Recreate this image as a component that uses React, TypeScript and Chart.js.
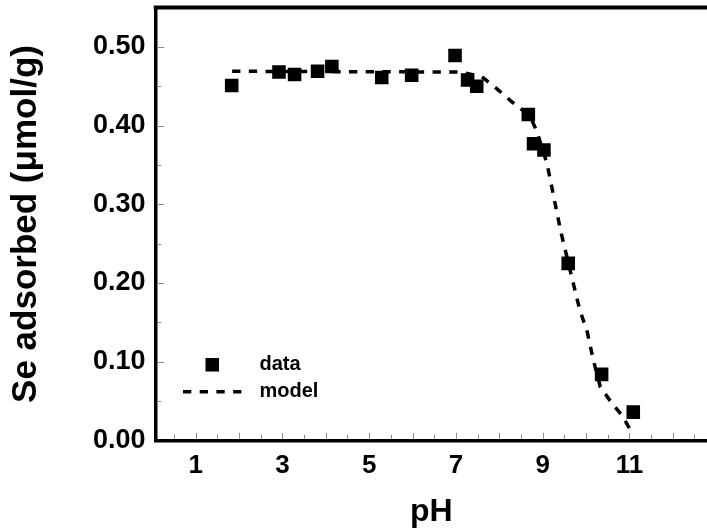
import React, { useEffect, useRef } from "react";
import { Chart, registerables } from "chart.js";

Chart.register(...registerables);

// Measured data (pH vs Se adsorbed, µmol/g)
const dataPH = [1.83, 2.92, 3.28, 3.81, 4.14, 5.29, 5.98, 6.98, 7.27, 7.48, 8.67, 8.79, 9.03, 9.59, 10.36, 11.09];
const dataSe = [0.451, 0.468, 0.465, 0.469, 0.475, 0.461, 0.464, 0.489, 0.458, 0.45, 0.414, 0.377, 0.369, 0.225, 0.084, 0.036];

// Model curve
const modelPH = [1.84, 7.12, 7.6, 7.94, 8.25, 8.55, 8.75, 8.87, 9.1, 9.42, 9.67, 9.86, 10.02, 10.17, 10.33, 10.6, 10.83, 11.06];
const modelSe = [0.469, 0.468, 0.462, 0.447, 0.432, 0.419, 0.407, 0.392, 0.352, 0.265, 0.208, 0.165, 0.14, 0.102, 0.068, 0.047, 0.032, 0.01];

// Tick labels
const xLabelTicks = [1, 3, 5, 7, 9, 11];
const yLabelTicks = [0, 0.1, 0.2, 0.3, 0.4, 0.5];

const seriesNames = ["data", "model"];
const xTitle = "pH";
const yTitle = "Se adsorbed (\u03bcmol/g)";

const FONT = "'Liberation Sans', Arial, Helvetica, sans-serif";

const zeroPadding = (scale: any) => {
  scale.paddingTop = 0;
  scale.paddingBottom = 0;
  scale.paddingLeft = 0;
  scale.paddingRight = 0;
};

const decorPlugin = {
  id: "decor",
  afterDraw(chart: any) {
    const { ctx, chartArea, scales } = chart;
    const xs = scales.x;
    const ys = scales.y;
    ctx.save();
    // top border
    ctx.strokeStyle = "#000";
    ctx.lineWidth = 4;
    ctx.beginPath();
    ctx.moveTo(chartArea.left - 1.75, chartArea.top);
    ctx.lineTo(chart.width, chartArea.top);
    ctx.stroke();

    // inward tick marks
    ctx.strokeStyle = "#8a8a8a";
    ctx.lineWidth = 1;
    const b = chartArea.bottom - 1.75;
    for (let v = Math.ceil(xs.min / 0.5) * 0.5; v <= xs.max; v += 0.5) {
      const px = Math.round(xs.getPixelForValue(v)) + 0.5;
      const major = Math.abs(v - Math.round(v)) < 1e-6;
      ctx.beginPath();
      ctx.moveTo(px, b);
      ctx.lineTo(px, b - (major ? 6 : 4));
      ctx.stroke();
    }
    const l = chartArea.left + 1.75;
    for (let i = 1; i * 0.05 < ys.max; i++) {
      const v = i * 0.05;
      const py = Math.round(ys.getPixelForValue(v)) + 0.5;
      const major = i % 2 === 0;
      ctx.beginPath();
      ctx.moveTo(l, py);
      ctx.lineTo(l + (major ? 7 : 4), py);
      ctx.stroke();
    }

    // legend inside plot
    const lx = chartArea.left;
    const dataY = ys.getPixelForValue(0.1) + 3;
    const modelY = dataY + 27;
    ctx.fillStyle = "#000";
    ctx.fillRect(lx + 50, dataY - 6.75, 13.5, 13.5);
    ctx.strokeStyle = "#000";
    ctx.lineWidth = 3.5;
    ctx.setLineDash([8.3, 8.4]);
    ctx.beginPath();
    ctx.moveTo(lx + 27.5, modelY);
    ctx.lineTo(lx + 86.5, modelY);
    ctx.stroke();
    ctx.setLineDash([]);
    ctx.font = `bold 20px ${FONT}`;
    ctx.textBaseline = "middle";
    ctx.textAlign = "left";
    ctx.fillText(seriesNames[0], lx + 104, dataY);
    ctx.fillText(seriesNames[1], lx + 104, modelY);
    ctx.restore();
  },
};

export default function App() {
  const canvasRef = useRef<HTMLCanvasElement | null>(null);

  useEffect(() => {
    if (!canvasRef.current) return;
    const chart = new Chart(canvasRef.current, {
      type: "scatter",
      data: {
        datasets: [
          {
            label: seriesNames[0],
            data: dataPH.map((x, i) => ({ x, y: dataSe[i] })),
            pointStyle: "rect",
            pointRadius: 9.6,
            pointHoverRadius: 9.6,
            backgroundColor: "#000",
            borderWidth: 0,
            showLine: false,
          },
          {
            label: seriesNames[1],
            data: modelPH.map((x, i) => ({ x, y: modelSe[i] })),
            showLine: true,
            pointRadius: 0,
            borderColor: "#000",
            borderWidth: 3.5,
            borderDash: [8.3, 8.4],
            tension: 0,
            fill: false,
          },
        ],
      },
      options: {
        animation: false,
        responsive: true,
        maintainAspectRatio: false,
        layout: { autoPadding: false, padding: { top: 7.5, right: 0, left: 0, bottom: 0 } },
        plugins: {
          legend: { display: false },
          tooltip: { enabled: false },
        },
        scales: {
          x: {
            type: "linear",
            min: 0.073,
            max: 12.79,
            grid: { display: false, drawTicks: false },
            border: { display: true, color: "#000", width: 3.5 },
            afterBuildTicks: (scale: any) => {
              scale.ticks = xLabelTicks.map((v) => ({ value: v }));
            },
            afterFit: (scale: any) => {
              scale.height = 91.5;
              zeroPadding(scale);
            },
            ticks: {
              color: "#000",
              padding: 10,
              font: { family: FONT, size: 26, weight: "bold" },
              callback: (v: any) => String(v),
              maxRotation: 0,
              autoSkip: false,
            },
            title: {
              display: true,
              text: xTitle,
              color: "#000",
              padding: { top: 0, bottom: 1 },
              font: { family: FONT, size: 32, weight: "bold" },
            },
          },
          y: {
            type: "linear",
            min: 0,
            max: 0.55,
            grid: { display: false, drawTicks: false },
            border: { display: true, color: "#000", width: 3.5 },
            afterBuildTicks: (scale: any) => {
              scale.ticks = yLabelTicks.map((v) => ({ value: v }));
            },
            afterFit: (scale: any) => {
              scale.width = 155.5;
              zeroPadding(scale);
            },
            ticks: {
              color: "#000",
              padding: 10,
              font: { family: FONT, size: 27, weight: "bold" },
              callback: (v: any) => Number(v).toFixed(2),
              autoSkip: false,
            },
            title: {
              display: true,
              text: yTitle,
              color: "#000",
              padding: { top: 5, bottom: 0 },
              font: { family: FONT, size: 35, weight: "bold" },
            },
          },
        },
      },
      plugins: [decorPlugin],
    });
    return () => chart.destroy();
  }, []);

  return (
    <div style={{ position: "absolute", left: 0, top: 0, width: 707, height: 532, background: "#fff" }}>
      <canvas ref={canvasRef} />
    </div>
  );
}
